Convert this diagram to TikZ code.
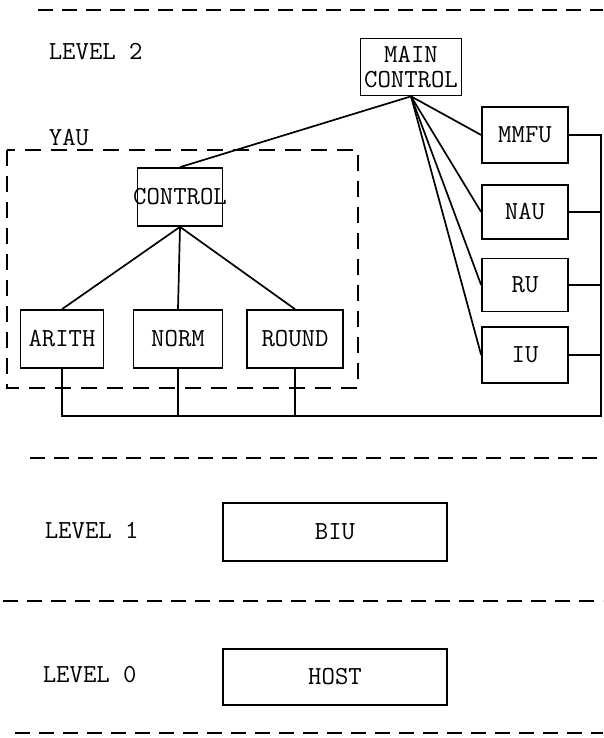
\documentclass[tikz,border=0pt]{standalone}
\begin{document}
\begin{tikzpicture}[x=1pt,y=-1pt,line width=1.7pt,
    font=\ttfamily\fontsize{26}{25}\selectfont,
    unitbox/.style 2 args={draw,inner sep=0pt,
      minimum width=#1,minimum height=#2,align=center},
    levelsep/.style={line width=1.7pt,dash pattern=on 15pt off 9pt},
    yaubox/.style={line width=1.8pt,dash pattern=on 16pt off 10pt}]
  \useasboundingbox (0,0) rectangle (603,738);
  % level separators
  \foreach \xa/\y in {38/10, 30/458, 3/601, 15/733}
    \draw[levelsep] (\xa,\y) -- (603,\y);
  \node[anchor=west,inner sep=0pt] (lvl2) at (48,52) {LEVEL 2};
  \node[anchor=west,inner sep=0pt] (lvl1) at (44,531) {LEVEL 1};
  \node[anchor=west,inner sep=0pt] (lvl0) at (42,675) {LEVEL 0};

  % level 2
  \node[unitbox={101pt}{57pt}] (main) at (411,67) {MAIN\\CONTROL};
  \foreach \n/\t/\y/\h in {mmfu/MMFU/135/56, nau/NAU/212/54,
      ru/RU/285/53, iu/IU/355/56}
    \node[unitbox={86pt}{\h pt}] (\n) at (525,\y) {\t};

  % YAU
  \draw[yaubox] (7,150) rectangle (358,388);
  \node[inner sep=0pt] (yau) at (69,138) {YAU};
  \node[unitbox={85pt}{58pt}] (ctrl) at (180,197) {\makebox[0pt]{CONTROL}};
  \foreach \n/\t/\x/\w in {arith/ARITH/62/83, norm/NORM/178/89,
      round/ROUND/295/96}
    \node[unitbox={\w pt}{58pt}] (\n) at (\x,339) {\t};

  \draw (ctrl.north) -- (main.south);
  \foreach \n in {arith,norm,round} \draw (ctrl.south) -- (\n.north);
  \foreach \n in {mmfu,nau,ru,iu} \draw (main.south) -- (\n.west);

  % bus
  \coordinate (busR) at (601,416);
  \draw (arith.south) |- (busR) -- (busR |- mmfu.east) -- (mmfu.east);
  \foreach \n in {norm,round} \draw (\n.south) -- (\n.south |- busR);
  \foreach \n in {nau,ru,iu} \draw (\n.east) -- (\n.east -| busR);

  % levels 1 and 0
  \node[unitbox={224pt}{58pt}] (biu) at (335,532) {BIU};
  \node[unitbox={224pt}{56pt}] (host) at (335,677) {HOST};
\end{tikzpicture}
\end{document}
